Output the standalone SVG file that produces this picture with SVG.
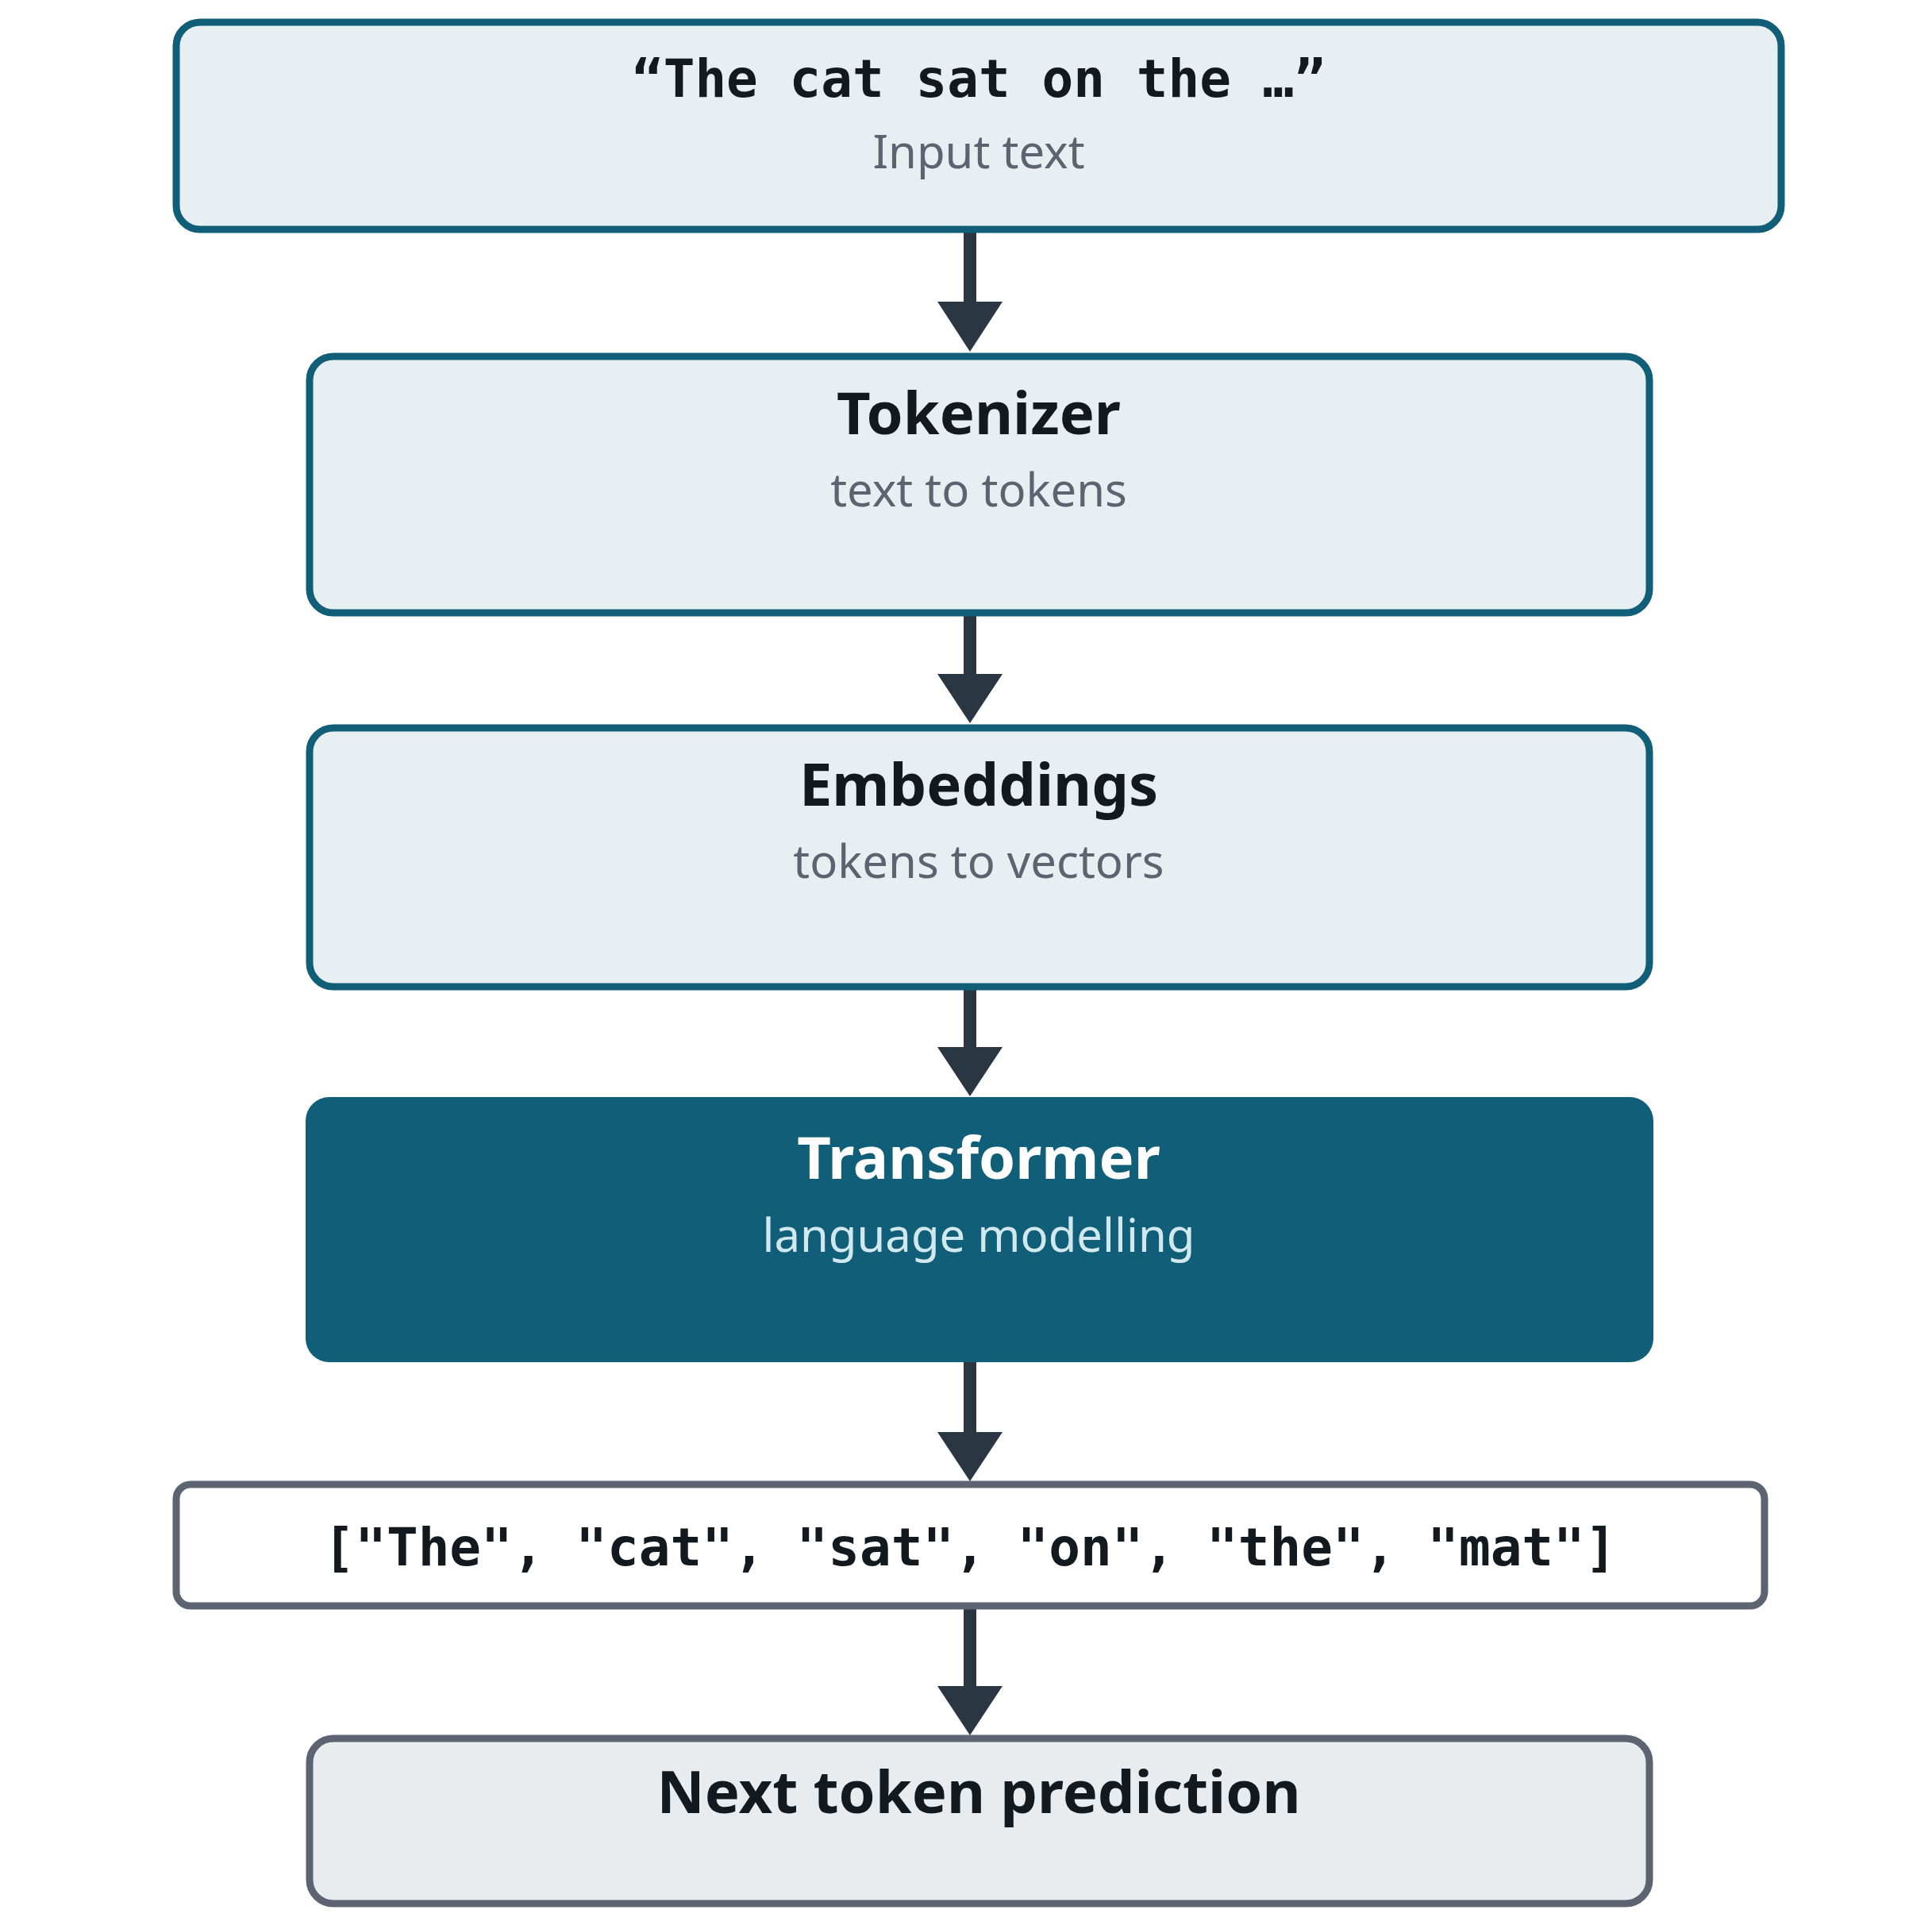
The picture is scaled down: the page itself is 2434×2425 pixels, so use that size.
<svg xmlns="http://www.w3.org/2000/svg" width="2434" height="2425" viewBox="0 0 2434 2425">
<style>
.box{fill:#e7eff2;stroke:#115e78;stroke-width:9}
.gbox{stroke:#5b6470;stroke-width:9}
.t{font-family:"Noto Sans","Open Sans",sans-serif;font-weight:bold;font-size:74px;fill:#121a1f;text-anchor:middle}
.s{font-family:"Noto Sans","Open Sans",sans-serif;font-size:58px;fill:#5b6470;text-anchor:middle}
.m{font-family:"DejaVu Sans Mono","Liberation Mono",monospace;font-weight:bold;font-size:66px;fill:#121a1f;text-anchor:middle}
.e{stroke:#2a3742;stroke-width:16;fill:none}
.h{fill:#2a3742}
</style>
<rect width="2434" height="2425" fill="#fff"/>
<g id="connectors">
<line class="e" x1="1222" y1="289" x2="1222" y2="385"/><polygon class="h" points="1181,380 1263,380 1222,443"/>
<line class="e" x1="1222" y1="772" x2="1222" y2="853"/><polygon class="h" points="1181,849 1263,849 1222,911"/>
<line class="e" x1="1222" y1="1243" x2="1222" y2="1324"/><polygon class="h" points="1181,1319 1263,1319 1222,1381"/>
<line class="e" x1="1222" y1="1716" x2="1222" y2="1809"/><polygon class="h" points="1181,1804 1263,1804 1222,1866"/>
<line class="e" x1="1222" y1="2023" x2="1222" y2="2129"/><polygon class="h" points="1181,2124 1263,2124 1222,2186"/>
</g>
<g id="input"><rect class="box" x="222" y="28" width="2022" height="261" rx="30"/>
<text class="m" x="1233" y="122">“The cat sat on the …”</text>
<text class="s" x="1233" y="212">Input text</text></g>
<g id="tokenizer"><rect class="box" x="390" y="449" width="1688" height="323" rx="30"/>
<text class="t" x="1233" y="547">Tokenizer</text>
<text class="s" x="1233" y="638">text to tokens</text></g>
<g id="embeddings"><rect class="box" x="390" y="917" width="1688" height="326" rx="30"/>
<text class="t" x="1233" y="1015">Embeddings</text>
<text class="s" x="1233" y="1106">tokens to vectors</text></g>
<g id="transformer"><rect x="385" y="1382" width="1698" height="334" rx="30" fill="#115e78"/>
<text class="t" x="1233" y="1485" style="fill:#fff">Transformer</text>
<text class="s" x="1233" y="1577" style="fill:#d2e8ef">language modelling</text></g>
<g id="tokens"><rect class="gbox" x="222" y="1870" width="2001" height="153" rx="18" fill="#fff"/>
<text class="m" x="1222" y="1972">["The", "cat", "sat", "on", "the", "mat"]</text></g>
<g id="next"><rect class="gbox" x="390" y="2190" width="1688" height="208" rx="30" fill="#e9ecef"/>
<text class="t" x="1233" y="2284">Next token prediction</text></g>
</svg>
